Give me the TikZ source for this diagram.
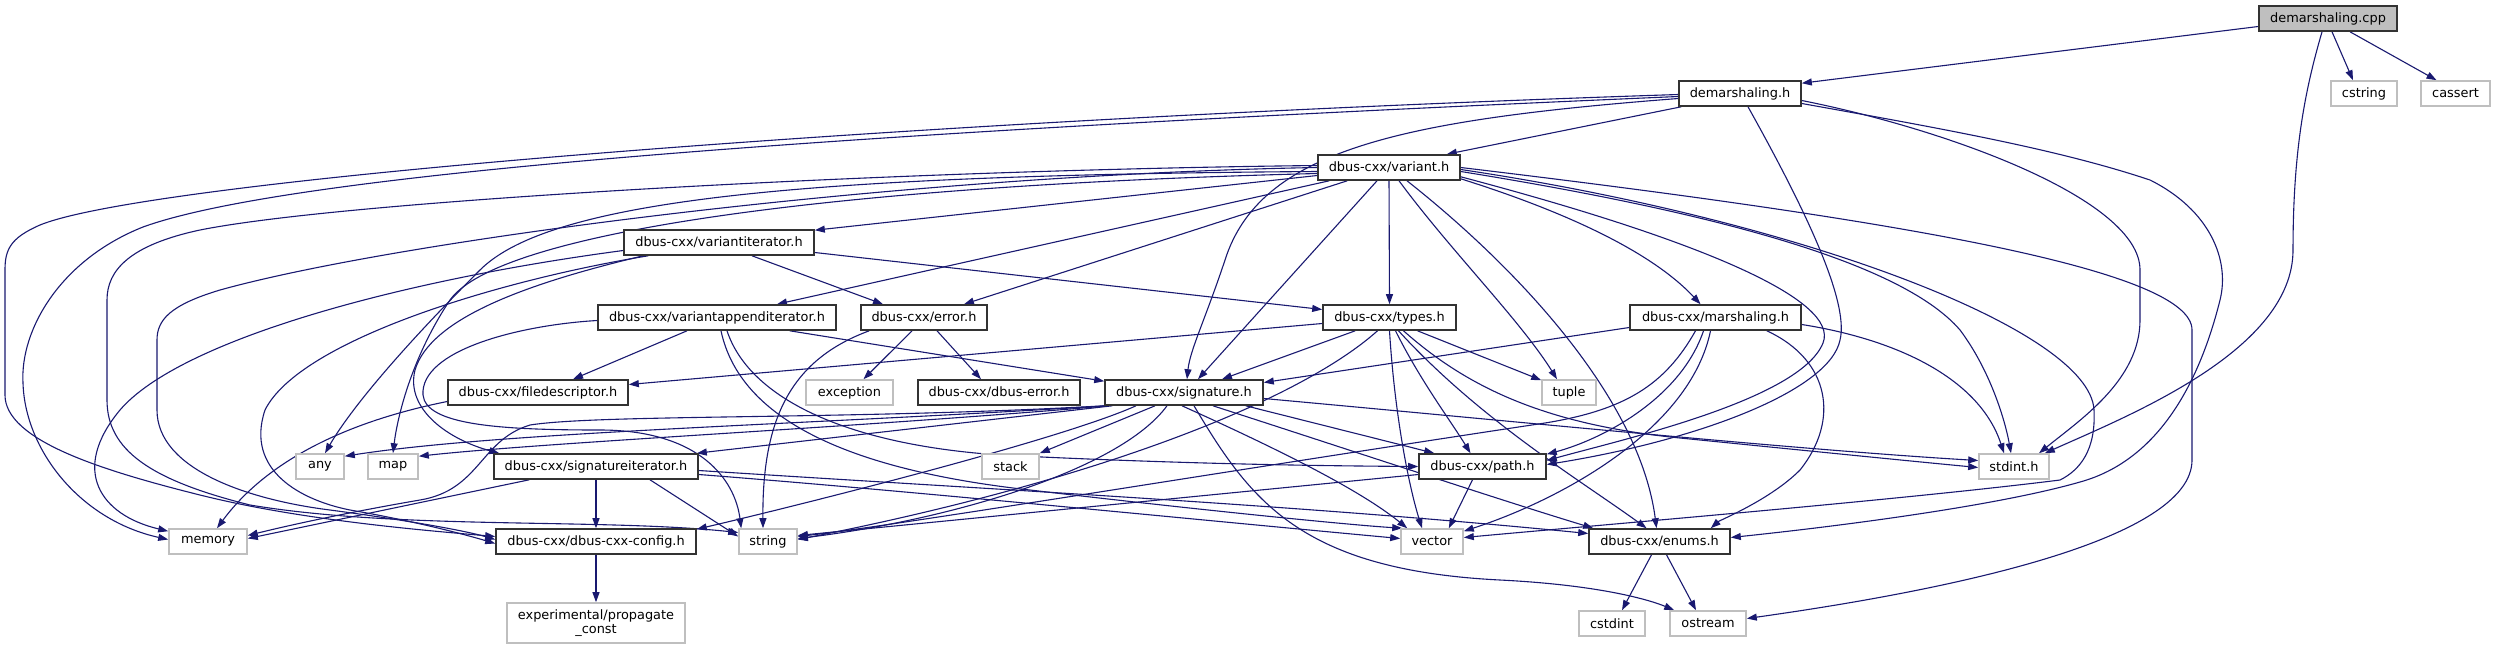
\documentclass[tikz,border=0pt]{standalone}
\usepackage{fontspec}
\setmainfont{DejaVu Sans}
\usetikzlibrary{arrows.meta,calc}
\definecolor{edgecol}{HTML}{191970}
\definecolor{darkbox}{HTML}{333333}
\definecolor{lightbox}{HTML}{BFBFBF}
\pgfdeclarelayer{bg}
\pgfsetlayers{bg,main}
\begin{document}
\begin{tikzpicture}[x=1pt,y=-1pt,
  box/.style={draw=darkbox, line width=1.6pt, fill=white, inner sep=0pt, minimum height=25pt, font=\fontsize{12.9}{14.5}\selectfont, text=black},
  sysbox/.style={box, draw=lightbox},
  srcbox/.style={box, fill=lightbox},
  dep/.style={draw=edgecol, line width=1.1pt, -{Triangle[length=10pt,width=7pt]}}
]
\useasboundingbox (0,0) rectangle (2496,649);
% nodes
\node[srcbox, minimum width=138pt] (cpp) at (2328,18.5) {demarshaling.cpp};
\node[box, minimum width=122pt] (dmh) at (1740,93.5) {demarshaling.h};
\node[sysbox, minimum width=66pt] (cstring) at (2364,93.5) {cstring};
\node[sysbox, minimum width=69pt] (cassert) at (2455.5,93.5) {cassert};
\node[box, minimum width=142pt] (variant) at (1389,167.5) {dbus-cxx/variant.h};
\node[box, minimum width=190pt] (viter) at (719,242.5) {dbus-cxx/variantiterator.h};
\node[box, minimum width=238pt] (vappend) at (717,317.5) {dbus-cxx/variantappenditerator.h};
\node[box, minimum width=126pt] (error) at (924,317.5) {dbus-cxx/error.h};
\node[box, minimum width=133pt] (types) at (1389.5,317.5) {dbus-cxx/types.h};
\node[box, minimum width=171pt] (marsh) at (1715.5,317.5) {dbus-cxx/marshaling.h};
\node[box, minimum width=180pt] (fd) at (538,392.5) {dbus-cxx/filedescriptor.h};
\node[sysbox, minimum width=87pt] (exception) at (849.5,392.5) {exception};
\node[box, minimum width=162pt] (dbuserror) at (999,392.5) {dbus-cxx/dbus-error.h};
\node[box, minimum width=158pt] (sig) at (1184,392.5) {dbus-cxx/signature.h};
\node[sysbox, minimum width=54pt] (tuple) at (1569,392.5) {tuple};
\node[sysbox, minimum width=48pt] (any) at (320,466.5) {any};
\node[sysbox, minimum width=50pt] (map) at (393,466.5) {map};
\node[box, minimum width=204pt] (sigiter) at (596,466.5) {dbus-cxx/signatureiterator.h};
\node[sysbox, minimum width=57pt] (stack) at (1010.5,466.5) {stack};
\node[box, minimum width=127pt] (path) at (1482.5,466.5) {dbus-cxx/path.h};
\node[sysbox, minimum width=70pt] (stdint) at (2014,466.5) {stdint.h};
\node[sysbox, minimum width=78pt] (memory) at (208,541.5) {memory};
\node[box, minimum width=200pt] (config) at (596,541.5) {dbus-cxx/dbus-cxx-config.h};
\node[sysbox, minimum width=58pt] (string) at (768,541.5) {string};
\node[sysbox, minimum width=62pt] (vector) at (1432,541.5) {vector};
\node[box, minimum width=141pt] (enums) at (1659.5,541.5) {dbus-cxx/enums.h};
\node[sysbox, minimum width=178pt, minimum height=40pt, align=center] (expconst) at (596,623) {experimental/propagate\\\_const};
\node[sysbox, minimum width=66pt] (cstdint) at (1612,623.5) {cstdint};
\node[sysbox, minimum width=76pt] (ostream) at (1708,623.5) {ostream};
\begin{pgfonlayer}{bg}
% demarshaling.cpp
\draw[dep] ($(cpp.west)+(0,8)$) -- ($(dmh.north east)+(0,3)$);
\draw[dep] ($(cpp.south)+(4,0)$) -- ($(cstring.north)+(-11,0)$);
\draw[dep] ($(cpp.south)+(22,0)$) -- ($(cassert.north)+(-19,0)$);
\draw[dep] ($(cpp.south)+(-6,0)$) .. controls (2305,90) and (2293,150) .. (2293,250) .. controls (2293,350) and (2130,415) .. ($(stdint.north east)+(-5,0)$);
% demarshaling.h
\draw[dep] ($(dmh.south west)+(3,0)$) -- ($(variant.north east)+(-14,0)$);
\draw[dep] ($(dmh.west)+(0,5)$) .. controls (1400,120) and (1260,150) .. (1225,260) .. controls (1205,320) and (1190,350) .. ($(sig.north)+(3,0)$);
\draw[dep] ($(dmh.south)+(8,0)$) .. controls (1800,200) and (1850,300) .. (1840,340) .. controls (1830,390) and (1700,440) .. ($(path.east)+(0,-2)$);
\draw[dep] ($(dmh.east)+(0,7)$) .. controls (1950,130) and (2140,200) .. (2140,270) -- (2140,320) .. controls (2140,380) and (2080,420) .. ($(stdint.north)+(25,0)$);
\draw[dep] ($(dmh.east)+(0,10)$) .. controls (1950,130) and (2060,150) .. (2150,180) .. controls (2210,210) and (2230,260) .. (2220,300) .. controls (2200,380) and (2160,460) .. (2080,482) .. controls (2000,505) and (1850,525) .. ($(enums.east)+(0,-4)$);
\draw[dep] ($(dmh.west)+(0,3)$) .. controls (900,130) and (300,170) .. (143,227) .. controls (60,260) and (20,330) .. (23,383) .. controls (25,450) and (80,520) .. ($(memory.west)+(0,-2)$);
\draw[dep] ($(dmh.west)+(0,1)$) .. controls (900,120) and (150,180) .. (40,225) .. controls (10,238) and (5,250) .. (5,270) -- (5,395) .. controls (5,440) and (100,470) .. (200,495) .. controls (300,520) and (420,530) .. ($(config.west)+(0,-5)$);
% variant.h
\draw[dep] ($(variant.west)+(0,8)$) -- ($(viter.north east)+(0,1)$);
\draw[dep] ($(variant.south west)+(12,0)$) -- ($(vappend.north)+(60,0)$);
\draw[dep] ($(variant.south west)+(30,0)$) -- ($(error.north)+(40,0)$);
\draw[dep] (variant.south) -- (types.north);
\draw[dep] ($(variant.south)+(-12,0)$) -- ($(sig.north)+(14,0)$);
\draw[dep] ($(variant.south east)+(0,-2)$) .. controls (1560,210) and (1650,250) .. ($(marsh.north)+(-15,0)$);
\draw[dep] ($(variant.south)+(10,0)$) .. controls (1450,250) and (1520,320) .. ($(tuple.north)+(-12,0)$);
\draw[dep] ($(variant.south)+(18,0)$) .. controls (1520,270) and (1640,400) .. ($(enums.north)+(-3,0)$);
\draw[dep] ($(variant.south east)+(0,-4)$) .. controls (1700,240) and (1840,300) .. (1823,343) .. controls (1800,400) and (1620,440) .. ($(path.east)+(0,-6)$);
\draw[dep] ($(variant.east)+(0,4)$) .. controls (1700,210) and (1900,260) .. (1960,330) .. controls (1990,370) and (2005,420) .. ($(stdint.north)+(-3,0)$);
\draw[dep] ($(variant.east)+(0,2)$) .. controls (1800,220) and (2090,330) .. (2094,410) .. controls (2096,450) and (2080,470) .. (2060,480) .. controls (1900,500) and (1600,525) .. ($(vector.east)+(0,-4)$);
\draw[dep] (variant.east) .. controls (1900,220) and (2192,270) .. (2192,330) -- (2192,460) .. controls (2192,540) and (1950,590) .. ($(ostream.east)+(0,-5)$);
\draw[dep] ($(variant.west)+(0,4)$) .. controls (800,175) and (550,200) .. (480,270) .. controls (400,350) and (350,410) .. ($(any.north)+(5,0)$);
\draw[dep] ($(variant.west)+(0,6)$) .. controls (850,185) and (500,230) .. (450,300) .. controls (410,360) and (397,420) .. (map.north);
\draw[dep] ($(variant.west)+(0,-2)$) .. controls (900,170) and (350,200) .. (200,230) .. controls (130,245) and (107,270) .. (107,300) -- (107,400) .. controls (107,450) and (150,480) .. (250,505) .. controls (400,530) and (600,518) .. ($(string.west)+(0,-9)$);
\draw[dep] (variant.west) .. controls (900,175) and (400,240) .. (220,290) .. controls (170,305) and (157,320) .. (157,340) -- (157,410) .. controls (157,470) and (250,500) .. (330,510) .. controls (420,522) and (470,532) .. ($(config.west)+(0,-2)$);
% variantiterator.h
\draw[dep] ($(viter.south)+(33,0)$) -- ($(error.north)+(-41,0)$);
\draw[dep] ($(viter.east)+(0,10)$) -- ($(types.west)+(0,-8)$);
\draw[dep] ($(viter.west)+(0,8)$) .. controls (400,280) and (180,340) .. (120,410) .. controls (70,470) and (100,515) .. ($(memory.north west)+(0,3)$);
\draw[dep] ($(viter.south west)+(25,0)$) .. controls (500,280) and (300,340) .. (265,410) .. controls (245,470) and (300,500) .. (350,510) .. controls (420,522) and (470,536) .. ($(config.west)+(0,2)$);
\draw[dep] ($(viter.south west)+(20,0)$) .. controls (520,285) and (430,320) .. (415,370) .. controls (405,410) and (450,440) .. ($(sigiter.north west)+(6,0)$);
% variantappenditerator.h
\draw[dep] ($(vappend.west)+(0,3)$) .. controls (520,325) and (420,350) .. (423,395) .. controls (426,425) and (500,430) .. (600,430) .. controls (700,430) and (735,480) .. ($(string.north west)+(3,0)$);
\draw[dep] ($(vappend.south)+(-30,0)$) -- ($(fd.north)+(35,0)$);
\draw[dep] ($(vappend.south east)+(-47,0)$) -- ($(sig.north west)+(0,2)$);
\draw[dep] ($(vappend.south)+(10,0)$) .. controls (750,400) and (850,445) .. (1000,455) .. controls (1200,465) and (1350,466) .. (path.west);
\draw[dep] ($(vappend.south)+(4,0)$) .. controls (740,420) and (850,470) .. (1030,490) .. controls (1200,510) and (1350,525) .. ($(vector.north west)+(2,0)$);
% error.h
\draw[dep] ($(error.south)+(-12,0)$) -- ($(exception.north)+(14,0)$);
\draw[dep] ($(error.south)+(13,0)$) -- ($(dbuserror.north)+(-18,0)$);
\draw[dep] ($(error.south west)+(9,0)$) .. controls (790,360) and (762,420) .. ($(string.north)+(-5,0)$);
% types.h
\draw[dep] ($(types.south west)+(33,0)$) -- ($(sig.north)+(38,0)$);
\draw[dep] ($(types.west)+(0,6)$) -- ($(fd.east)+(0,-8)$);
\draw[dep] ($(types.south)+(28,0)$) -- ($(tuple.north west)+(0,1)$);
\draw[dep] ($(types.south)+(6,0)$) .. controls (1420,380) and (1450,420) .. ($(path.north)+(-12,0)$);
\draw[dep] (types.south) .. controls (1395,420) and (1410,490) .. ($(vector.north)+(-10,0)$);
\draw[dep] ($(types.south)+(9,0)$) .. controls (1480,420) and (1580,480) .. ($(enums.north)+(-13,0)$);
\draw[dep] ($(types.south)+(14,0)$) .. controls (1470,390) and (1550,425) .. (1680,438) .. controls (1820,452) and (1920,462) .. ($(stdint.west)+(0,1)$);
\draw[dep] ($(types.south)+(-12,0)$) .. controls (1300,400) and (1100,480) .. ($(string.east)+(0,-2)$);
% marshaling.h
\draw[dep] ($(marsh.west)+(0,10)$) -- ($(sig.east)+(0,-10)$);
\draw[dep] ($(marsh.south)+(-12,0)$) .. controls (1680,400) and (1600,440) .. ($(path.north east)+(0,1)$);
\draw[dep] ($(marsh.south)+(-5,0)$) .. controls (1690,430) and (1560,500) .. ($(vector.north east)+(0,3)$);
\draw[dep] ($(marsh.south east)+(-35,0)$) .. controls (1830,360) and (1840,420) .. (1800,470) .. controls (1770,500) and (1720,520) .. ($(enums.north east)+(-20,0)$);
\draw[dep] ($(marsh.east)+(0,7)$) .. controls (1900,340) and (1980,380) .. ($(stdint.north)+(-10,0)$);
\draw[dep] ($(marsh.south)+(-20,0)$) .. controls (1665,385) and (1625,410) .. (1545,423) .. controls (1200,475) and (900,525) .. ($(string.east)+(0,-5)$);
% filedescriptor.h
\draw[dep] ($(fd.west)+(0,9)$) .. controls (330,425) and (260,470) .. ($(memory.north)+(9,0)$);
% signature.h
\draw[dep] ($(sig.south west)+(2,0)$) .. controls (800,425) and (500,432) .. ($(any.north east)+(0,3)$);
\draw[dep] ($(sig.south west)+(4,0)$) .. controls (850,428) and (550,442) .. ($(map.north east)+(0,3)$);
\draw[dep] ($(sig.south west)+(8,0)$) -- ($(sigiter.north east)+(-2,0)$);
\draw[dep] (sig.south west) .. controls (850,420) and (600,414) .. (530,425) .. controls (480,440) and (480,490) .. (420,500) .. controls (350,512) and (290,525) .. ($(memory.east)+(0,-6)$);
\draw[dep] ($(sig.south)+(-29,0)$) -- (stack.north east);
\draw[dep] ($(sig.south)+(-17,0)$) .. controls (1120,470) and (950,520) .. ($(string.east)+(0,-3)$);
\draw[dep] ($(sig.south)+(-48,0)$) .. controls (1060,440) and (800,505) .. ($(config.north east)+(0,1)$);
\draw[dep] ($(sig.south east)+(-18,0)$) -- ($(path.north west)+(16,0)$);
\draw[dep] ($(sig.south)+(-2,0)$) .. controls (1280,450) and (1360,490) .. ($(vector.north west)+(7,0)$);
\draw[dep] ($(sig.south)+(29,0)$) .. controls (1350,450) and (1500,500) .. ($(enums.north west)+(5,0)$);
\draw[dep] ($(sig.south)+(10,0)$) .. controls (1250,500) and (1300,570) .. (1500,580) .. controls (1600,585) and (1650,600) .. ($(ostream.north west)+(5,0)$);
\draw[dep] ($(sig.east)+(0,6)$) .. controls (1500,420) and (1800,450) .. ($(stdint.west)+(0,-6)$);
% signatureiterator.h
\draw[dep] ($(sigiter.south west)+(36,0)$) -- ($(memory.east)+(0,-3)$);
\draw[dep] (sigiter.south) -- (config.north);
\draw[dep] ($(sigiter.south)+(54,0)$) -- ($(string.west)+(0,-5)$);
\draw[dep] ($(sigiter.east)+(0,8)$) .. controls (900,490) and (1200,520) .. ($(vector.west)+(0,-3)$);
\draw[dep] ($(sigiter.east)+(0,4)$) .. controls (1000,490) and (1300,505) .. ($(enums.west)+(0,-8)$);
% path.h
\draw[dep] ($(path.south)+(-10,0)$) -- ($(vector.north east)+(-15,0)$);
\draw[dep] ($(path.west)+(0,8)$) -- ($(string.east)+(0,-6)$);
% others
\draw[dep] (config.south) -- (expconst.north);
\draw[dep] ($(enums.south)+(-8,0)$) -- ($(cstdint.north)+(10,0)$);
\draw[dep] ($(enums.south)+(7,0)$) -- ($(ostream.north)+(-12,0)$);
\end{pgfonlayer}
\end{tikzpicture}
\end{document}
